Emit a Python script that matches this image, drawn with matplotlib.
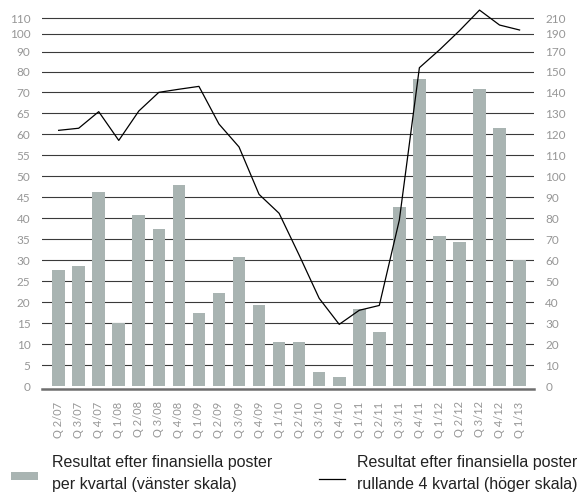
#!/usr/bin/python
# -*- coding: utf-8 -*-

import numpy as np
import matplotlib
matplotlib.use("Agg")
import matplotlib.pyplot as plt
from matplotlib.patches import Rectangle
from matplotlib.lines import Line2D

# kvartal och värden (MSEK)
kvartal = ['Q 2/07', 'Q 3/07', 'Q 4/07', 'Q 1/08', 'Q 2/08', 'Q 3/08', 'Q 4/08',
           'Q 1/09', 'Q 2/09', 'Q 3/09', 'Q 4/09', 'Q 1/10', 'Q 2/10', 'Q 3/10',
           'Q 4/10', 'Q 1/11', 'Q 2/11', 'Q 3/11', 'Q 4/11', 'Q 1/12', 'Q 2/12',
           'Q 3/12', 'Q 4/12', 'Q 1/13']
resultat_kvartal = [27.7, 28.6, 46.3, 15.1, 40.9, 37.5, 47.9, 17.5, 22.2, 30.8,
                    19.4, 10.5, 10.5, 3.4, 2.2, 18.4, 12.9, 42.8, 76.5, 35.8,
                    34.4, 71.6, 61.5, 30.1]
resultat_rullande = [121.9, 122.9, 130.8, 117.1, 131.1, 140.0, 141.5, 142.9,
                     124.9, 114.0, 91.4, 82.4, 62.5, 41.9, 29.5, 36.2, 38.5,
                     79.2, 154.0, 171.9, 194.2, 220.6, 201.5, 195.1]

vanster_ticks = [0, 5, 10, 15, 20, 25, 30, 35, 40, 45, 50, 55, 60, 65, 70,
                 80, 90, 100, 110]
hoger_ticks = [0, 10, 20, 30, 40, 50, 60, 70, 80, 90, 100, 110, 120, 130, 140,
               150, 170, 190, 210]

# skalorna är ihoptryckta upptill (som i originalet) -> styckvis linjär skala
vanster_brk = [-10, 0, 70, 80, 90, 100, 110, 130]
hoger_brk = [-20, 0, 140, 150, 170, 190, 210, 250]
pos_brk = [-10, 0, 70, 74.9, 79.7, 83.9, 87.6, 95.1]


def make_scale(brk):
    fwd = lambda v: np.interp(v, brk, pos_brk)
    inv = lambda p: np.interp(p, pos_brk, brk)
    return fwd, inv


BAR_COLOR = '#a9b4b2'
TICK_COLOR = '#969696'
TICK_FONT = 'Lato'

fig = plt.figure(figsize=(5.77, 4.94), dpi=100)
ax = fig.add_axes([0.0728, 0.2126, 0.9255 - 0.0728, 0.9899 - 0.2126])
ax2 = ax.twinx()

v_fwd, v_inv = make_scale(vanster_brk)
h_fwd, h_inv = make_scale(hoger_brk)
ax.set_yscale('function', functions=(v_fwd, v_inv))
ax2.set_yscale('function', functions=(h_fwd, h_inv))

x = np.arange(len(kvartal))
ax.bar(x, resultat_kvartal, width=0.63, color=BAR_COLOR, zorder=2)
ax2.plot(x, resultat_rullande, color='black', lw=0.9, zorder=3)

# samma position i båda skalorna
pos_lo, pos_hi = -0.64, 90.8
ax.set_ylim(v_inv(pos_lo), v_inv(pos_hi))
ax2.set_ylim(h_inv(pos_lo), h_inv(pos_hi))
ax.set_xlim(-0.83, 23.72)

ax.set_yticks(vanster_ticks)
ax.set_yticklabels([str(t) for t in vanster_ticks])
ax2.set_yticks(hoger_ticks)
ax2.set_yticklabels([str(t) for t in hoger_ticks])
ax.set_xticks(x)
ax.set_xticklabels(kvartal)
ax.minorticks_off()
ax2.minorticks_off()

ax.yaxis.grid(True, color='#3a3a3a', lw=0.8)
ax.set_axisbelow(True)
ax.get_ygridlines()[0].set_visible(False)  # nollan ritas av baslinjen

for s in ['top', 'left', 'right']:
    ax.spines[s].set_visible(False)
for s in ax2.spines.values():
    s.set_visible(False)
ax.spines['bottom'].set_color('#6e6e6e')
ax.spines['bottom'].set_linewidth(1.8)

ax.tick_params(axis='y', length=0, pad=8.4, labelcolor=TICK_COLOR, labelsize=8.5)
ax2.tick_params(axis='y', length=0, pad=8.2, labelcolor=TICK_COLOR, labelsize=8.5)
ax.tick_params(axis='x', length=0, pad=9, labelcolor=TICK_COLOR, labelsize=8,
               rotation=90)
for lab in ax.get_xticklabels() + ax.get_yticklabels() + ax2.get_yticklabels():
    lab.set_family(TICK_FONT)

# förklaring under diagrammet
LEG_FONT = dict(family='Liberation Sans', size=11.5, color='#222222', va='baseline')
fig.text(51.7 / 577, 1 - 466.7 / 494, 'Resultat efter finansiella poster', **LEG_FONT)
fig.text(51.7 / 577, 1 - 488.5 / 494, 'per kvartal (vänster skala)', **LEG_FONT)
fig.text(357 / 577, 1 - 466.7 / 494, 'Resultat efter finansiella poster', **LEG_FONT)
fig.text(357 / 577, 1 - 488.5 / 494, 'rullande 4 kvartal (höger skala)', **LEG_FONT)
fig.add_artist(Rectangle((11 / 577, 1 - 480 / 494), 27 / 577, 8 / 494,
                         transform=fig.transFigure, color=BAR_COLOR, lw=0))
fig.add_artist(Line2D([318.7 / 577, 345.3 / 577], [1 - 479 / 494, 1 - 479 / 494],
                      transform=fig.transFigure, color='black', lw=0.9))

fig.savefig('out.png', dpi=100)
